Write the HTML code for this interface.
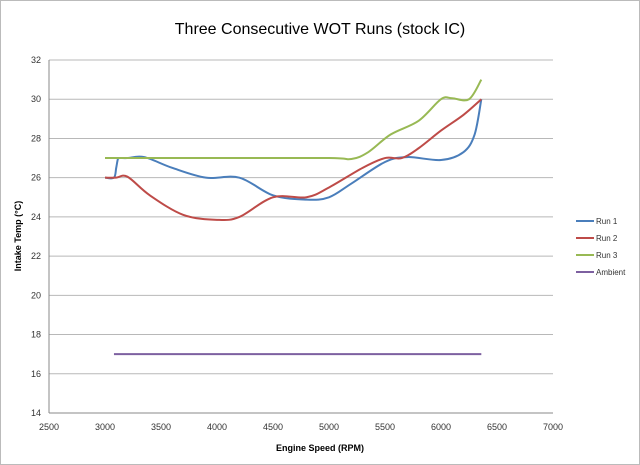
<!DOCTYPE html>
<html><head><meta charset="utf-8"><style>
body{margin:0;background:#fff;}
svg{display:block;font-family:"Liberation Sans",sans-serif;}
</style></head><body>
<svg id="c" width="640" height="465">
<rect x="0.5" y="0.5" width="639" height="464" fill="#fff" stroke="#bbb"/>
<text x="320" y="34" text-anchor="middle" font-size="16">Three Consecutive WOT Runs (stock IC)</text>
<text x="320" y="451" text-anchor="middle" font-size="9" font-weight="bold">Engine Speed (RPM)</text>
<text transform="translate(21,236) rotate(-90)" text-anchor="middle" font-size="9" font-weight="bold">Intake Temp (°C)</text>
<g id="grid"></g><g id="series"></g><g id="legend"></g>
</svg>
<script>
const xTicks=[2500,3000,3500,4000,4500,5000,5500,6000,6500,7000];
const yTicks=[14,16,18,20,22,24,26,28,30,32];
const seriesNames=["Run 1","Run 2","Run 3","Ambient"];
const seriesColors=["#4a7ebb","#be4b48","#98b954","#7d60a0"];
const run1X=[3000,3080,3100,3115,3130,3200,3350,3600,3900,4200,4500,4800,5000,5200,5500,5700,6000,6200,6300,6360];
const run1Y=[26,26,26.5,26.95,27,27,27.05,26.5,26,26,25.1,24.88,25,25.7,26.8,27.05,26.9,27.3,28.2,30];
const run2X=[3000,3100,3200,3400,3700,4000,4200,4500,4800,5000,5300,5500,5650,5800,6000,6200,6360];
const run2Y=[26,26,26.05,25.1,24.1,23.85,24,25,25,25.5,26.5,27,27,27.5,28.4,29.2,30];
const run3X=[3000,4000,5000,5200,5350,5550,5800,6000,6100,6250,6360];
const run3Y=[27,27,27,26.95,27.3,28.2,28.9,30,30.05,30,31];
const ambX=[3080,6360];
const ambY=[17,17];
const allX=[run1X,run2X,run3X,ambX], allY=[run1Y,run2Y,run3Y,ambY];
const L=49,R=553,T=60,B=413;
const sx=v=>L+(v-2500)/4500*(R-L), sy=v=>B-(v-14)/18*(B-T);
const ns="http://www.w3.org/2000/svg";
function mk(t,a,p){const e=document.createElementNS(ns,t);for(const k in a)e.setAttribute(k,a[k]);p.appendChild(e);return e;}
const g=document.getElementById('grid');
yTicks.forEach(v=>{
 const l=mk('line',{x1:L,x2:R,y1:sy(v),y2:sy(v),stroke:v==14?'#888':'#b8b8b8','stroke-width':1},g);
 
 
 const t=mk('text',{x:L-8,y:sy(v)+3,'text-anchor':'end','font-size':9,fill:'#333'},g);t.textContent=v;
 
 
});
const ax=mk('line',{x1:L,x2:L,y1:T,y2:B,stroke:'#888'},g);


xTicks.forEach(v=>{
 const t=mk('text',{x:sx(v),y:430,'text-anchor':'middle','font-size':9,fill:'#333'},g);t.textContent=v;
 
 
});
function path(xs,ys){
 const p=xs.map((x,i)=>[sx(x),sy(ys[i])]);let d='M'+p[0][0]+','+p[0][1];
 for(let i=0;i<p.length-1;i++){const p0=p[i-1]||p[i],p1=p[i],p2=p[i+1],p3=p[i+2]||p2;
  const c1=[p1[0]+(p2[0]-p0[0])/6,p1[1]+(p2[1]-p0[1])/6],c2=[p2[0]-(p3[0]-p1[0])/6,p2[1]-(p3[1]-p1[1])/6];
  d+=` C${c1[0]},${c1[1]} ${c2[0]},${c2[1]} ${p2[0]},${p2[1]}`;}
 return d;
}
const s=document.getElementById('series'),lg=document.getElementById('legend');
seriesNames.forEach((n,i)=>{
 const e=mk('path',{d:path(allX[i],allY[i]),fill:'none',stroke:seriesColors[i],'stroke-width':2},s);
 
 
 const y=221+i*17;
 const ll=mk('line',{x1:576,x2:594,y1:y,y2:y,stroke:seriesColors[i],'stroke-width':2},lg);
 
 
 const t=mk('text',{x:596,y:y+3,'font-size':8,fill:'#333'},lg);t.textContent=n;
 
 
});
</script>
</body></html>
